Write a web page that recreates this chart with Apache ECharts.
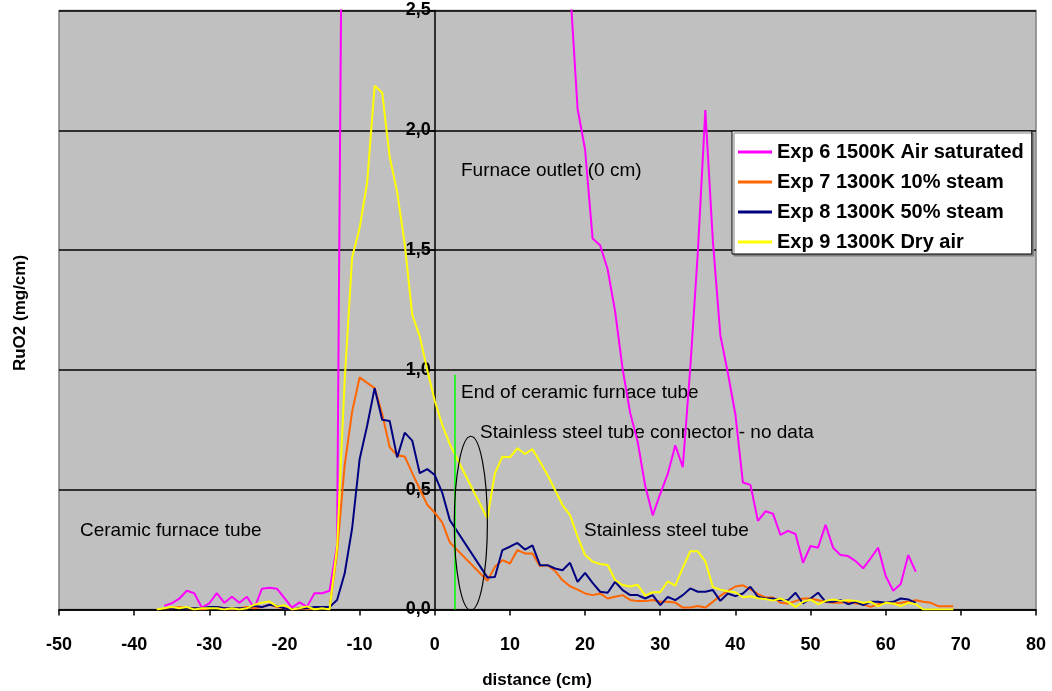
<!DOCTYPE html>
<html>
<head>
<meta charset="utf-8">
<script src="https://cdn.jsdelivr.net/npm/echarts@6.0.0/dist/echarts.min.js"></script>
<style>
  html, body { margin: 0; padding: 0; background: #fff; }
  #chart { width: 1052px; height: 691px; }
</style>
</head>
<body>
<div id="chart"></div>
<script>
// data: [distance (cm), RuO2 (mg/cm)]
const seriesNames = ['Exp 6 1500K Air saturated', 'Exp 7 1300K 10% steam', 'Exp 8 1300K 50% steam', 'Exp 9 1300K Dry air'];
const seriesColors = ['#FF00FF', '#FF6600', '#000080', '#FFFF00'];

const exp6 = [[-36,0.015],[-35,0.026],[-34,0.045],[-33,0.078],[-32,0.068],[-31,0.008],[-30,0.026],[-29,0.068],[-28,0.028],[-27,0.053],
  [-26,0.028],[-25,0.053],[-24,0.005],[-23,0.087],[-22,0.091],[-21,0.087],[-20,0.047],[-19,0.008],[-18,0.03],[-17,0.012],
  [-16,0.068],[-15,0.068],[-14,0.078],[-13,0.27],[-12,4.5],[18,2.6],[19,2.09],[20,1.92],[21,1.548],[22,1.52],[23,1.42],
  [24,1.243],[25,1.003],[26,0.82],[27,0.70],[28,0.516],[29,0.393],[30,0.483],[31,0.566],[32,0.685],[33,0.594],[34,1.01],
  [35,1.49],[36,2.084],[37,1.54],[38,1.144],[39,0.987],[40,0.814],[41,0.53],[42,0.52],[43,0.37],[44,0.41],[45,0.40],
  [46,0.311],[47,0.328],[48,0.315],[49,0.195],[50,0.265],[51,0.258],[52,0.353],[53,0.258],[54,0.227],[55,0.223],[56,0.202],
  [57,0.172],[58,0.214],[59,0.258],[60,0.14],[61,0.078],[62,0.106],[63,0.227],[64,0.158]];

const exp7 = [[-36,0.005],[-35,0.005],[-34,0.01],[-33,0.005],[-32,0.005],[-31,0],[-30,0.005],[-29,0.01],[-28,0.005],[-27,0],
  [-26,0.005],[-25,0.01],[-24,0.005],[-23,0.01],[-22,0.02],[-21,0.01],[-20,0.005],[-19,0],[-18,0.005],[-17,0],[-16,0.005],
  [-15,0.005],[-14,0.005],[-13,0.24],[-12,0.60],[-11,0.825],[-10,0.969],[-9,0.946],[-8,0.924],[-7,0.817],[-6,0.677],
  [-5,0.644],[-4,0.639],[-3,0.569],[-2,0.503],[-1,0.437],[0,0.404],[1,0.363],[2,0.28],[7,0.12],[8,0.178],[9,0.206],
  [10,0.192],[11,0.248],[12,0.234],[13,0.234],[14,0.181],[15,0.185],[16,0.161],[17,0.122],[18,0.097],[19,0.083],[20,0.067],
  [21,0.06],[22,0.067],[23,0.046],[24,0.053],[25,0.06],[26,0.04],[27,0.035],[28,0.035],[29,0.04],[30,0.032],[31,0.032],
  [32,0.029],[33,0.008],[34,0.008],[35,0.015],[36,0.008],[37,0.032],[38,0.057],[39,0.078],[40,0.096],[41,0.101],[42,0.085],
  [43,0.064],[44,0.05],[45,0.05],[46,0.028],[47,0.025],[48,0.035],[49,0.046],[50,0.046],[51,0.039],[52,0.032],[53,0.028],
  [54,0.028],[55,0.032],[56,0.025],[57,0.022],[58,0.011],[59,0.022],[60,0.028],[61,0.025],[62,0.028],[63,0.032],[64,0.039],
  [65,0.032],[66,0.028],[67,0.014],[68,0.014],[69,0.014]];

const exp8 = [[-36,0.005],[-35,0.005],[-34,0.005],[-33,0.005],[-32,0.005],[-31,0.005],[-30,0.01],[-29,0.01],[-28,0.005],[-27,0.005],
  [-26,0.005],[-25,0.005],[-24,0.015],[-23,0.01],[-22,0.02],[-21,0.015],[-20,0.005],[-19,0],[-18,0.005],[-17,0.005],[-16,0.01],
  [-15,0.01],[-14,0.01],[-13,0.04],[-12,0.149],[-11,0.338],[-10,0.627],[-9,0.767],[-8,0.924],[-7,0.792],[-6,0.787],
  [-5,0.635],[-4,0.738],[-3,0.705],[-2,0.569],[-1,0.586],[0,0.561],[1,0.487],[2,0.373],[7,0.134],[8,0.136],[9,0.248],
  [10,0.262],[11,0.278],[12,0.25],[13,0.268],[14,0.185],[15,0.185],[16,0.171],[17,0.164],[18,0.195],[19,0.115],[20,0.153],
  [21,0.111],[22,0.074],[23,0.07],[24,0.115],[25,0.081],[26,0.06],[27,0.06],[28,0.046],[29,0.06],[30,0.018],[31,0.053],
  [32,0.039],[33,0.06],[34,0.088],[35,0.074],[36,0.074],[37,0.081],[38,0.036],[39,0.067],[40,0.056],[41,0.067],[42,0.095],
  [43,0.053],[44,0.046],[45,0.046],[46,0.039],[47,0.039],[48,0.07],[49,0.025],[50,0.046],[51,0.07],[52,0.032],[53,0.032],
  [54,0.039],[55,0.022],[56,0.032],[57,0.018],[58,0.032],[59,0.032],[60,0.028],[61,0.032],[62,0.046],[63,0.042],[64,0.028]];

const exp9 = [[-37,0],[-36,0.005],[-35,0.01],[-34,0.005],[-33,0.01],[-32,0],[-31,0.005],[-30,0.005],[-29,0.005],[-28,0],
  [-27,0.005],[-26,0],[-25,0.005],[-24,0.02],[-23,0.028],[-22,0.033],[-21,0.013],[-20,0.018],[-19,0],[-18,0.005],[-17,0.013],
  [-16,0],[-15,0.005],[-14,0],[-13,0.26],[-12,0.95],[-11,1.469],[-10,1.592],[-9,1.782],[-8,2.186],[-7,2.157],[-6,1.889],
  [-5,1.741],[-4,1.526],[-3,1.23],[-2,1.14],[-1,1.0],[0,0.87],[1,0.77],[2,0.69],[7,0.38],[8,0.568],[9,0.638],[10,0.635],
  [11,0.673],[12,0.649],[13,0.669],[14,0.617],[15,0.561],[16,0.499],[17,0.436],[18,0.394],[19,0.304],[20,0.227],[21,0.2],
  [22,0.19],[23,0.186],[24,0.123],[25,0.102],[26,0.096],[27,0.103],[28,0.058],[29,0.072],[30,0.072],[31,0.117],[32,0.1],
  [33,0.174],[34,0.243],[35,0.243],[36,0.201],[37,0.094],[38,0.083],[39,0.076],[40,0.072],[41,0.051],[42,0.055],[43,0.047],
  [44,0.044],[45,0.037],[46,0.046],[47,0.032],[48,0.011],[49,0.032],[50,0.042],[51,0.022],[52,0.036],[53,0.042],[54,0.036],
  [55,0.039],[56,0.036],[57,0.028],[58,0.032],[59,0.014],[60,0.028],[61,0.025],[62,0.014],[63,0.028],[64,0.022],[65,0],
  [66,0],[67,0],[68,0],[69,0]];

const seriesData = [exp6, exp7, exp8, exp9];

// end of ceramic tube marker and the "no data" ellipse, in data units
const ceramicEnd = 2.7;
const ceramicEndTop = 0.98;
const connectorCenter = [4.8, 0.36];
const connectorRadius = [2.2, 0.363];

const FONT = '"Liberation Sans", Arial, sans-serif';
const GRID_LEFT = 59;

let chart = echarts.init(document.getElementById('chart'));

let series = seriesData.map(function (d, i) {
  return {
    name: seriesNames[i],
    type: 'line',
    data: d,
    showSymbol: false,
    symbol: 'none',
    color: seriesColors[i],
    lineStyle: { width: 2, color: seriesColors[i] },
    animation: false
  };
});

// green line: end of ceramic furnace tube
series[3].markLine = {
  silent: true,
  symbol: 'none',
  label: { show: false },
  lineStyle: { color: '#00FF00', width: 1.5, type: 'solid' },
  data: [[{ coord: [ceramicEnd, 0] }, { coord: [ceramicEnd, ceramicEndTop] }]]
};

let option = {
  backgroundColor: '#fff',
  animation: false,
  textStyle: { fontFamily: FONT },
  grid: {
    left: GRID_LEFT, right: 16, top: 10.5, bottom: 81.5,
    show: true,
    backgroundColor: '#C0C0C0',
    borderColor: '#808080',
    borderWidth: 1.5
  },
  legend: {
    orient: 'vertical',
    left: 732,
    top: 131,
    backgroundColor: '#fff',
    borderColor: '#000',
    borderWidth: 1,
    shadowColor: '#808080',
    shadowOffsetX: 2,
    shadowOffsetY: 2,
    padding: [11, 8, 2, 6],
    itemGap: 10,
    itemWidth: 34,
    itemHeight: 3,
    icon: 'rect',
    data: seriesNames,
    textStyle: { fontFamily: FONT, fontWeight: 'bold', fontSize: 20, color: '#000', lineHeight: 20 }
  },
  xAxis: {
    type: 'value',
    min: -50, max: 80, interval: 10,
    axisLine: { onZero: false, lineStyle: { color: '#000', width: 1.5 } },
    axisTick: { show: true, inside: false, length: 6, lineStyle: { color: '#000', width: 1.5 } },
    axisLabel: { color: '#000', fontSize: 18, fontWeight: 'bold', fontFamily: FONT, margin: 27 },
    splitLine: { show: false }
  },
  yAxis: {
    type: 'value',
    min: 0, max: 2.5, interval: 0.5,
    offset: 0,
    axisLine: { show: true, onZero: false, lineStyle: { color: '#000', width: 1.5 } },
    axisTick: { show: true, length: 5, lineStyle: { color: '#000', width: 1.5 } },
    axisLabel: {
      color: '#000', fontSize: 18, fontWeight: 'bold', fontFamily: FONT, margin: 4,
      formatter: function (v) { return v.toFixed(1).replace('.', ','); }
    },
    splitLine: { show: true, lineStyle: { color: '#000', width: 1.5 } }
  },
  graphic: [
    { type: 'text', x: 537, y: 680, style: { text: 'distance (cm)', font: 'bold 17px ' + FONT, fill: '#000', align: 'center', verticalAlign: 'middle' } },
    { type: 'text', x: 20, y: 313, rotation: Math.PI / 2, style: { text: 'RuO2 (mg/cm)', font: 'bold 17px ' + FONT, fill: '#000', align: 'center', verticalAlign: 'middle' } },
    { type: 'text', x: 461, y: 171, style: { text: 'Furnace outlet (0 cm)', font: '19px ' + FONT, fill: '#000', verticalAlign: 'middle' } },
    { type: 'text', x: 461, y: 393, style: { text: 'End of ceramic furnace tube', font: '19px ' + FONT, fill: '#000', verticalAlign: 'middle' } },
    { type: 'text', x: 480, y: 433, style: { text: 'Stainless steel tube connector - no data', font: '19px ' + FONT, fill: '#000', verticalAlign: 'middle' } },
    { type: 'text', x: 584, y: 531, style: { text: 'Stainless steel tube', font: '19px ' + FONT, fill: '#000', verticalAlign: 'middle' } },
    { type: 'text', x: 80, y: 531, style: { text: 'Ceramic furnace tube', font: '19px ' + FONT, fill: '#000', verticalAlign: 'middle' } }
  ],
  series: series
};

chart.setOption(option);

// move the y axis onto distance 0, as in the original
let zeroPx = chart.convertToPixel({ gridIndex: 0 }, [0, 0])[0];

// ellipse around the connector gap, placed from data coordinates
let c = chart.convertToPixel({ gridIndex: 0 }, connectorCenter);
let e = chart.convertToPixel({ gridIndex: 0 }, [connectorCenter[0] + connectorRadius[0], connectorCenter[1] + connectorRadius[1]]);
option.graphic.push({
  type: 'ellipse',
  z: 100,
  shape: { cx: c[0], cy: c[1], rx: e[0] - c[0], ry: c[1] - e[1] },
  style: { fill: 'none', stroke: '#000', lineWidth: 1.2 }
});
chart.setOption({
  yAxis: { offset: -(zeroPx - GRID_LEFT) },
  graphic: option.graphic
});
</script>
</body>
</html>
